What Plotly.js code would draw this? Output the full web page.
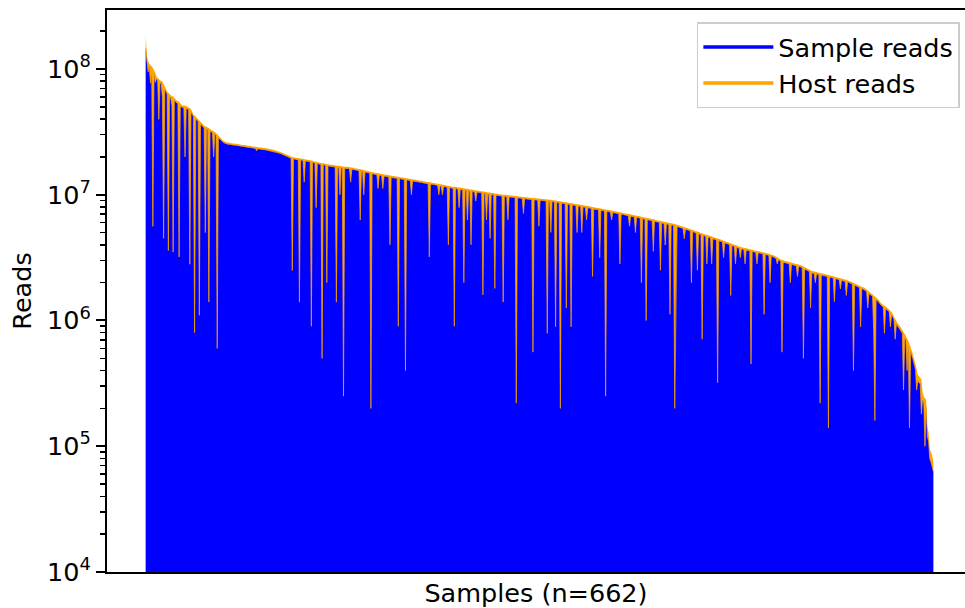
<!DOCTYPE html>
<html>
<head>
<meta charset="utf-8">
<script src="https://cdn.plot.ly/plotly-3.0.1.min.js"></script>
<style>html,body{margin:0;padding:0;background:#fff;}#chart{width:965px;height:608px;}</style>
</head>
<body>
<div id="chart"></div>
<script>
// Total reads per sample (millions), samples sorted by total, descending
const totalReadsM = [
186,123,115,110,107,105,102,97.7,93.3,87.1,
85.1,83.2,81.3,80.4,79.4,75.9,72.4,69.2,66.1,64.6,
63.1,61.7,61.0,60.3,58.9,57.5,56.2,55.6,55.0,53.1,
51.9,51.3,51.2,51.0,50.7,50.1,49.5,49.0,47.9,45.7,
43.7,42.7,41.7,40.7,39.8,38.9,38.0,37.2,36.3,35.5,
35.1,34.7,34.3,33.9,33.1,32.7,32.4,32.0,31.6,30.9,
30.2,29.5,28.8,28.2,27.5,26.9,26.6,26.3,26.1,26.0,
25.9,25.8,25.7,25.6,25.5,25.4,25.4,25.3,25.2,25.1,
25.0,24.9,24.9,24.8,24.7,24.6,24.5,24.5,24.4,24.3,
24.2,24.1,24.1,24.0,23.9,23.8,23.8,23.7,23.6,23.5,
23.5,23.4,23.3,23.2,23.1,23.0,22.9,22.8,22.7,22.5,
22.4,22.2,22.1,21.9,21.7,21.5,21.3,21.1,20.9,20.7,
20.5,20.3,20.1,20.0,19.9,19.8,19.7,19.6,19.6,19.5,
19.4,19.3,19.3,19.2,19.1,19.0,19.0,18.9,18.8,18.7,
18.6,18.5,18.4,18.3,18.2,18.1,18.0,17.9,17.8,17.8,
17.7,17.6,17.5,17.5,17.4,17.3,17.3,17.2,17.2,17.1,
17.1,17.0,17.0,16.9,16.9,16.8,16.8,16.7,16.7,16.7,
16.6,16.6,16.5,16.5,16.4,16.3,16.2,16.2,16.1,16.0,
16.0,15.9,15.8,15.7,15.6,15.5,15.5,15.4,15.3,15.2,
15.1,15.1,15.0,14.9,14.9,14.8,14.8,14.7,14.6,14.6,
14.5,14.5,14.4,14.4,14.3,14.2,14.2,14.1,14.1,14.0,
14.0,13.9,13.9,13.8,13.8,13.7,13.7,13.6,13.6,13.5,
13.5,13.4,13.4,13.3,13.3,13.2,13.2,13.1,13.1,13.0,
13.0,12.9,12.9,12.8,12.8,12.7,12.7,12.6,12.6,12.5,
12.5,12.4,12.4,12.3,12.3,12.2,12.2,12.1,12.1,12.0,
12.0,11.9,11.9,11.8,11.8,11.7,11.7,11.6,11.6,11.6,
11.5,11.5,11.4,11.4,11.4,11.3,11.3,11.2,11.2,11.2,
11.1,11.1,11.0,11.0,11.0,10.9,10.9,10.8,10.8,10.8,
10.7,10.7,10.6,10.6,10.6,10.5,10.5,10.4,10.4,10.4,
10.3,10.3,10.3,10.2,10.2,10.2,10.1,10.1,10.1,10.0,
10.0,10.0,9.98,9.95,9.93,9.90,9.88,9.85,9.83,9.80,
9.78,9.75,9.73,9.70,9.68,9.65,9.63,9.60,9.58,9.55,
9.53,9.50,9.48,9.46,9.44,9.42,9.40,9.38,9.36,9.34,
9.32,9.30,9.28,9.26,9.24,9.22,9.20,9.18,9.16,9.14,
9.12,9.09,9.06,9.03,9.00,8.97,8.93,8.90,8.87,8.84,
8.80,8.77,8.74,8.71,8.68,8.64,8.61,8.58,8.55,8.52,
8.48,8.45,8.42,8.39,8.35,8.32,8.29,8.26,8.22,8.19,
8.16,8.13,8.09,8.06,8.03,7.99,7.96,7.93,7.89,7.86,
7.83,7.80,7.76,7.73,7.70,7.67,7.64,7.61,7.58,7.55,
7.51,7.48,7.45,7.42,7.39,7.36,7.32,7.29,7.26,7.23,
7.20,7.17,7.13,7.10,7.07,7.04,7.01,6.98,6.94,6.91,
6.88,6.85,6.82,6.79,6.76,6.72,6.69,6.66,6.63,6.60,
6.57,6.53,6.50,6.46,6.43,6.40,6.37,6.34,6.31,6.28,
6.25,6.22,6.19,6.16,6.13,6.10,6.07,6.04,6.01,5.98,
5.95,5.93,5.91,5.89,5.85,5.81,5.77,5.73,5.69,5.65,
5.61,5.57,5.53,5.49,5.45,5.41,5.37,5.33,5.29,5.25,
5.21,5.17,5.13,5.09,5.05,5.01,4.97,4.93,4.89,4.86,
4.83,4.79,4.76,4.72,4.69,4.65,4.62,4.59,4.55,4.52,
4.48,4.45,4.42,4.38,4.35,4.31,4.28,4.25,4.21,4.18,
4.14,4.11,4.08,4.04,4.01,3.98,3.95,3.92,3.88,3.85,
3.83,3.81,3.79,3.77,3.75,3.73,3.71,3.69,3.67,3.65,
3.63,3.61,3.59,3.57,3.56,3.55,3.53,3.51,3.49,3.47,
3.45,3.43,3.41,3.39,3.37,3.35,3.32,3.30,3.26,3.22,
3.18,3.14,3.10,3.05,3.03,3.01,2.99,2.97,2.95,2.94,
2.92,2.90,2.88,2.86,2.85,2.83,2.81,2.80,2.78,2.77,
2.75,2.72,2.69,2.66,2.63,2.60,2.57,2.54,2.51,2.48,
2.46,2.45,2.44,2.43,2.41,2.40,2.39,2.38,2.36,2.35,
2.34,2.32,2.31,2.30,2.29,2.27,2.26,2.25,2.23,2.22,
2.21,2.20,2.18,2.17,2.16,2.14,2.13,2.12,2.10,2.09,
2.07,2.05,2.03,2.01,1.99,1.97,1.95,1.93,1.91,1.89,
1.87,1.85,1.84,1.82,1.79,1.76,1.73,1.70,1.67,1.64,
1.61,1.58,1.55,1.52,1.49,1.46,1.42,1.38,1.35,1.33,
1.31,1.29,1.27,1.25,1.22,1.19,1.17,1.12,1.07,1.03,
0.99,0.955,0.93,0.90,0.87,0.84,0.81,0.78,0.75,0.72,
0.69,0.65,0.61,0.57,0.53,0.49,0.45,0.41,0.37,0.36,
0.35,0.34,0.27,0.25,0.24,0.235,0.14,0.13,0.095,0.09,
0.085,0.075
];

// Host reads per sample (millions), same order
const hostReadsM = [
38,8,20,4,30,5,96.4,4,15,4,
3.5,43.4,3.5,3.5,20,71.4,3,3,3,61.0,
3,3,10,56.8,2.5,2.5,2.5,2.5,51.8,2.5,
2,2,2,31.0,2,2,2,46.2,2,2,
1.8,41.9,1.5,1.5,1.5,37.8,1.5,1.5,1.5,1.5,
30.1,1.5,1.2,32.5,1.2,1.2,1.2,12.0,1.2,1.2,
29.6,1.0,1.0,1.0,0.8,0.8,0.8,0.8,0.8,0.8,
0.7,0.7,0.7,0.7,0.7,0.7,0.7,0.7,0.7,0.7,
0.7,0.7,0.7,0.7,0.7,0.7,0.7,0.7,0.7,0.7,
0.7,0.7,0.7,1.6,0.7,0.7,0.7,0.7,0.7,0.7,
0.7,0.7,0.7,0.7,0.7,0.7,0.7,0.7,0.7,0.7,
0.6,0.6,0.6,0.6,0.6,0.6,0.6,0.6,0.6,0.6,
0.6,0.6,0.6,17.5,0.6,0.6,0.6,0.6,0.6,18.1,
0.5,0.5,0.5,6.6,0.5,0.5,0.5,0.5,0.5,17.8,
0.5,0.5,0.5,10.4,0.5,0.5,0.5,0.5,17.3,0.5,
0.5,0.5,15.5,0.5,0.5,0.5,0.5,0.5,0.5,0.5,
15.7,0.5,0.5,6.9,0.5,0.5,16.55,0.5,0.5,0.5,
0.5,0.5,3.9,0.5,0.5,0.5,0.5,0.5,0.5,0.5,
9.7,0.45,0.45,5.7,0.45,0.45,0.45,0.45,0.45,15.0,
0.45,0.45,0.45,0.45,0.45,3.6,0.45,0.45,0.45,3.4,
0.45,0.45,0.45,0.45,0.45,10.2,0.45,0.45,0.45,0.45,
0.4,0.4,13.0,0.4,0.4,0.4,0.4,0.4,13.2,0.4,
0.4,0.4,0.4,3.3,0.4,0.4,0.4,0.4,0.4,0.4,
0.4,0.4,0.4,0.4,0.4,0.4,0.4,0.4,9.4,0.4,
0.35,0.35,0.35,0.35,0.35,0.35,2.2,0.35,0.35,2.0,
0.35,0.35,0.35,0.35,7.8,0.35,0.35,0.35,0.35,10.7,
0.35,0.35,0.35,3.5,0.35,0.35,0.35,9.2,0.35,0.35,
4.8,0.35,0.35,7.0,0.35,0.35,0.35,1.9,0.35,0.35,
0.3,0.3,0.3,9.0,0.3,0.3,4.2,0.3,0.3,5.9,
0.3,0.3,0.3,8.4,0.3,0.3,0.3,0.3,0.3,0.3,
8.6,0.3,0.3,0.3,3.6,0.3,0.3,0.3,0.3,0.3,
0.28,9.53,0.28,0.28,0.28,0.28,0.28,2.5,0.28,0.28,
0.28,0.28,0.28,0.28,0.28,8.86,0.28,0.28,0.28,0.28,
3.7,0.27,0.27,0.27,0.27,0.27,0.27,8.39,0.27,0.27,
4.1,0.27,0.27,0.27,8.11,0.27,0.27,0.27,8.67,0.27,
0.26,0.26,0.26,7.45,0.26,0.26,0.26,7.69,0.26,0.26,
0.25,0.25,3.41,0.25,0.25,0.25,3.28,0.25,0.25,0.25,
1.85,0.25,0.25,0.25,0.25,5.75,0.25,0.25,0.25,0.25,
0.24,4.64,0.24,0.24,0.24,0.24,7.39,0.24,0.24,0.24,
0.23,1.17,0.23,0.23,0.23,0.23,0.23,0.23,4.44,0.23,
0.22,0.22,0.22,0.22,0.22,0.22,1.39,0.22,0.22,0.22,
0.21,1.84,0.21,0.21,0.21,0.21,4.69,0.21,0.21,0.21,
5.57,0.2,0.2,0.2,0.2,0.2,2.82,0.2,0.2,0.2,
0.19,0.19,3.68,0.19,0.19,0.19,2.09,0.19,0.19,0.19,
4.83,0.18,0.18,0.18,5.65,3.81,0.18,0.18,0.18,0.18,
0.17,0.17,1.06,0.17,0.17,0.17,0.17,0.17,3.29,0.17,
0.16,0.16,0.16,2.58,0.16,0.16,0.16,4.22,0.16,0.16,
0.15,1.97,0.15,0.15,0.15,1.83,0.15,0.15,0.15,0.15,
4.16,0.14,0.14,0.14,0.14,1.15,0.14,0.14,0.14,0.14,
0.13,2.53,0.13,0.13,0.13,1.16,0.13,0.13,0.13,0.69,
0.12,0.12,0.12,0.95,0.12,0.12,0.12,0.12,3.22,0.12,
0.11,0.11,0.11,0.75,0.11,0.11,0.11,0.11,0.11,2.35,
0.1,0.1,0.1,0.1,1.37,0.1,0.1,0.1,0.1,0.1,
0.36,0.1,0.1,0.1,2.47,0.1,0.1,0.1,0.1,0.1,
0.09,0.90,0.09,0.09,0.09,0.09,0.09,0.56,0.09,0.09,
0.09,0.09,2.19,0.09,0.09,0.09,0.09,0.09,1.25,0.09,
0.08,0.08,0.44,0.08,0.08,0.08,2.17,0.08,0.08,0.08,
0.07,0.07,0.07,2.16,0.07,0.07,0.07,0.07,0.82,0.07,
0.07,0.07,0.07,0.39,0.07,0.07,0.07,0.07,0.52,0.07,
0.06,0.06,0.06,0.06,1.59,0.06,0.06,0.06,0.06,0.06,
0.98,0.06,0.06,0.06,0.06,0.06,0.47,0.06,0.06,0.06,
0.05,0.79,1.39,0.05,0.05,0.05,0.05,0.05,0.05,0.05,
0.52,0.05,0.05,0.05,0.05,0.30,0.05,0.05,0.05,0.32,
0.05,0.05,0.05,0.05,0.05,0.05,0.53,0.05,0.05,0.32,
0.05,0.51,0.04,0.04,0.04,0.04,0.04,0.13,0.04,0.04,
0.035,0.16,0.03,0.03,0.14,0.03,0.02,0.02,0.015,0.015,
0.015,0.012
];

const yTickVals = [1e4, 1e5, 1e6, 1e7, 1e8];
const yTickText = ['10<sup>4</sup>', '10<sup>5</sup>', '10<sup>6</sup>', '10<sup>7</sup>', '10<sup>8</sup>'];
const seriesNames = ['Sample reads', 'Host reads'];
const xTitle = 'Samples (n=662)';
const yTitle = 'Reads';

const MILLION = 1e6;
const idx = totalReadsM.map((_, i) => i);
const totalReads = totalReadsM.map(v => v * MILLION);
const sampleReads = totalReadsM.map((v, i) => (v - hostReadsM[i]) * MILLION);

const minorVals = [];
for (let e = 4; e <= 8; e++) for (let m = 2; m <= 9; m++) minorVals.push(m * Math.pow(10, e));

const BLUE = '#0000ff', ORANGE = '#ffa500';
const FONT = 'DejaVu Sans, Liberation Sans, sans-serif';

const traces = [
  {x: idx, y: totalReads, type: 'scatter', mode: 'none', fill: 'tozeroy', fillcolor: ORANGE, showlegend: false, hoverinfo: 'skip'},
  {x: idx, y: sampleReads, type: 'scatter', mode: 'none', fill: 'tozeroy', fillcolor: BLUE, showlegend: false, hoverinfo: 'skip'},
  // antialiased host/sample boundary along the top of the sample area
  {x: idx, y: sampleReads, type: 'scatter', mode: 'lines', line: {color: ORANGE, width: 0.7}, showlegend: false, hoverinfo: 'skip'},
  {x: [null], y: [null], type: 'scatter', mode: 'lines', name: seriesNames[0], line: {color: BLUE, width: 3.5}},
  {x: [null], y: [null], type: 'scatter', mode: 'lines', name: seriesNames[1], line: {color: ORANGE, width: 3.5}}
];

const layout = {
  width: 965, height: 608,
  margin: {l: 107, r: 0, t: 10, b: 36},
  paper_bgcolor: '#fff', plot_bgcolor: '#fff',
  font: {family: FONT, size: 25.5, color: '#000'},
  showlegend: true,
  legend: {
    x: 0.994, xanchor: 'right', y: 0.978, yanchor: 'top',
    bgcolor: '#fff', bordercolor: '#cccccc', borderwidth: 1.5,
    font: {family: FONT, size: 25.5, color: '#000'},
    traceorder: 'normal', itemwidth: 70
  },
  xaxis: {
    range: [-32.5, 687.6],
    showline: true, linecolor: '#000', linewidth: 2, mirror: true,
    showgrid: false, zeroline: false, showticklabels: false, ticks: '',
    title: {text: xTitle, font: {family: FONT, size: 25.5, color: '#000'}, standoff: 11}
  },
  yaxis: {
    type: 'log', range: [4, 8.469],
    showline: true, linecolor: '#000', linewidth: 2,
    showgrid: false, zeroline: false,
    tickmode: 'array', tickvals: yTickVals, ticktext: yTickText,
    ticks: 'outside', ticklen: 9, tickwidth: 2, tickcolor: '#000',
    tickfont: {family: FONT, size: 25.5, color: '#000'},
    minor: {tickmode: 'array', tickvals: minorVals, ticks: 'outside', ticklen: 5, tickwidth: 1.5, tickcolor: '#000', showgrid: false},
    title: {text: yTitle, font: {family: FONT, size: 25.5, color: '#000'}, standoff: 8}
  }
};

Plotly.newPlot('chart', traces, layout, {staticPlot: true, displayModeBar: false});
</script>
</body>
</html>
